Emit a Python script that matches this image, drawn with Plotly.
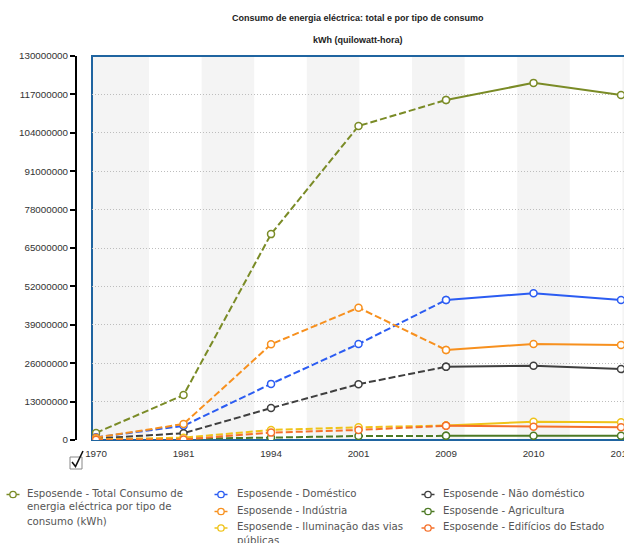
import plotly.graph_objects as go

# ---------------- data ----------------
years = ["1970", "1981", "1994", "2001", "2009", "2010", "2011"]

total = [2.4e6, 15.2e6, 69.7e6, 106.3e6, 115.1e6, 120.9e6, 116.8e6]
domestico = [0.9e6, 4.8e6, 19.0e6, 32.5e6, 47.4e6, 49.7e6, 47.4e6]
nao_domestico = [0.5e6, 2.3e6, 10.8e6, 18.9e6, 24.8e6, 25.1e6, 24.0e6]
industria = [0.8e6, 5.4e6, 32.4e6, 44.8e6, 30.5e6, 32.5e6, 32.2e6]
agricultura = [0.1e6, 0.4e6, 0.8e6, 1.35e6, 1.4e6, 1.4e6, 1.4e6]
iluminacao = [0.2e6, 0.8e6, 3.4e6, 4.3e6, 4.9e6, 6.2e6, 6.0e6]
edificios = [0.1e6, 0.2e6, 2.5e6, 3.4e6, 4.8e6, 4.5e6, 4.3e6]

series_names = [
    "Esposende - Total Consumo de<br>energia eléctrica por tipo de<br>consumo (kWh)",
    "Esposende - Doméstico",
    "Esposende - Não doméstico",
    "Esposende - Indústria",
    "Esposende - Agricultura",
    "Esposende - Iluminação das vias<br>públicas",
    "Esposende - Edifícios do Estado",
]
series_values = [total, domestico, nao_domestico, industria, agricultura, iluminacao, edificios]
series_colors = ["#7a8b26", "#2b5cf2", "#3f3f3f", "#f7901e", "#4d7a24", "#efc31a", "#f5702a"]

title_text = "Consumo de energia eléctrica: total e por tipo de consumo"
subtitle_text = "kWh (quilowatt-hora)"

y_max = 130000000
y_step = 13000000
dashed_until = 4  # index of 2009: dashed segment up to here, solid after

# ---------------- layout helpers ----------------
W, H = 624, 543
def px(x):
    return x / W
def py(y):
    return 1 - y / H

plot_left, plot_top, plot_bottom = 92, 56, 440
plot_w = W - plot_left

fig = go.Figure()

for name, vals, col in zip(series_names, series_values, series_colors):
    plain = name.replace("<br>", " ")
    fig.add_trace(go.Scatter(
        x=years[:dashed_until + 1], y=vals[:dashed_until + 1], mode="lines+markers",
        name=plain, line=dict(color=col, width=2, dash="7px,3px"),
        marker=dict(size=7, color="white", line=dict(color=col, width=1.5)),
        showlegend=False, hoverinfo="x+y+name"))
    fig.add_trace(go.Scatter(
        x=years[dashed_until:], y=vals[dashed_until:], mode="lines+markers",
        name=plain, line=dict(color=col, width=2),
        marker=dict(size=7, color="white", line=dict(color=col, width=1.5)),
        showlegend=False, hoverinfo="x+y+name"))

shapes = []
# alternating background bands (decorative)
first_edge = 57.0
band_px = 52.6
edges = [0.0]
k = 0
while True:
    e = (first_edge + k * band_px) / plot_w
    if e >= 1:
        edges.append(1.0)
        break
    edges.append(e)
    k += 1
for j in range(0, len(edges) - 1, 2):
    shapes.append(dict(type="rect", xref="x domain", yref="y domain",
                       x0=edges[j], x1=edges[j + 1], y0=0, y1=1,
                       fillcolor="#f4f4f4", line=dict(width=0), layer="below"))
# plot frame
shapes.append(dict(type="rect", xref="x domain", yref="y domain", x0=0, x1=1.05, y0=0, y1=1,
                   line=dict(color="#1f64a0", width=2), layer="below"))

# checkbox
shapes.append(dict(type="rect", xref="paper", yref="paper",
                   x0=px(70), x1=px(82), y0=py(469), y1=py(457),
                   line=dict(color="#888888", width=1), fillcolor="white"))
shapes.append(dict(type="path", xref="paper", yref="paper",
                   path=f"M {px(72)} {py(462)} L {px(75.5)} {py(466.5)} L {px(83)} {py(451)}",
                   line=dict(color="#111111", width=1.6)))

annotations = [
    dict(text="<b>" + title_text + "</b>", x=px(358), y=py(18), xref="paper", yref="paper",
         showarrow=False, xanchor="center", yanchor="middle",
         font=dict(family="Liberation Sans, Arial", size=9, color="#222222")),
    dict(text="<b>" + subtitle_text + "</b>", x=px(358), y=py(40), xref="paper", yref="paper",
         showarrow=False, xanchor="center", yanchor="middle",
         font=dict(family="Liberation Sans, Arial", size=9, color="#222222")),
]

# manual legend (3 columns)
legend_slots = [(0, 0), (1, 0), (2, 0), (1, 1), (2, 1), (1, 2), (2, 2)]
col_marker_x = [13, 221, 428]
col_text_x = [25, 235, 441]
row_y = [494.5, 511.5, 528]
line_gap = 14
for (c, r), name, col in zip(legend_slots, series_names, series_colors):
    cy = row_y[r]
    cx = col_marker_x[c]
    shapes.append(dict(type="line", xref="paper", yref="paper",
                       x0=px(cx - 6.5), x1=px(cx + 6.5), y0=py(cy), y1=py(cy),
                       line=dict(color=col, width=1.5)))
    shapes.append(dict(type="circle", xref="paper", yref="paper",
                       x0=px(cx - 3.2), x1=px(cx + 3.2), y0=py(cy + 3.2), y1=py(cy - 3.2),
                       fillcolor="white", line=dict(color=col, width=1.3)))
    for kk, ln in enumerate(name.split("<br>")):
        annotations.append(dict(text=ln, x=px(col_text_x[c]), y=py(cy - 1.5 + kk * line_gap),
                                xref="paper", yref="paper", showarrow=False,
                                xanchor="left", yanchor="middle",
                                font=dict(family="DejaVu Sans", size=10.2, color="#555555")))

fig.update_layout(
    width=W, height=H,
    margin=dict(l=0, r=0, t=0, b=0, pad=0),
    paper_bgcolor="white", plot_bgcolor="white",
    showlegend=False,
    shapes=shapes, annotations=annotations,
    xaxis=dict(type="category", domain=[px(plot_left), 1], range=[-0.046, 6.034],
               automargin=False,
               showgrid=False, showline=False, zeroline=False,
               ticks="outside", ticklen=4, tickcolor="rgba(0,0,0,0)",
               tickfont=dict(family="Liberation Sans, Arial", size=9.8, color="#333333")),
    yaxis=dict(domain=[py(plot_bottom), py(plot_top)], range=[0, y_max],
               automargin=False,
               tick0=0, dtick=y_step, tickformat="d",
               anchor="free", position=px(76),
               showline=True, linecolor="#000000", linewidth=2,
               ticks="outside", ticklen=5, tickwidth=2, tickcolor="#000000",
               showgrid=True, gridcolor="#bdbdbd", griddash="1px,2px", gridwidth=1,
               zeroline=False,
               tickfont=dict(family="Liberation Sans, Arial", size=9.8, color="#333333")),
)

fig.write_html("out.html", config={"displayModeBar": False},
               post_script="document.body.style.margin='0';document.body.style.overflow='hidden';")
